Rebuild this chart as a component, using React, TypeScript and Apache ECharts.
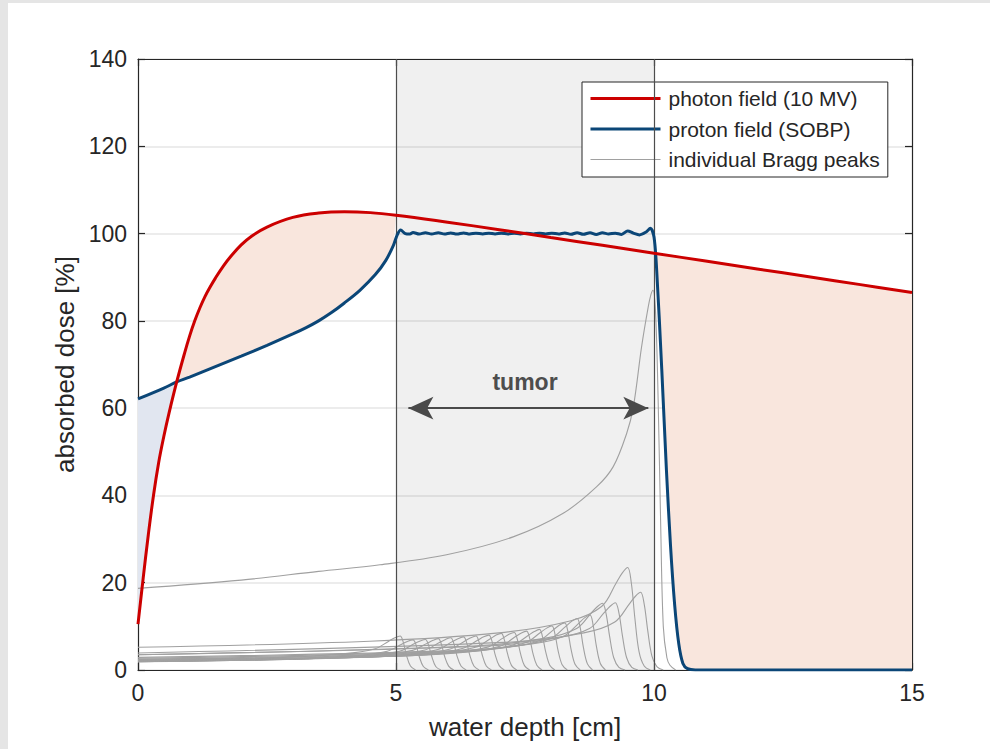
import React, { useEffect, useRef } from "react";
import * as echarts from "echarts";

type Pt = [number, number];

const xTicks = [0, 5, 10, 15];
const yTicks = [0, 20, 40, 60, 80, 100, 120, 140];
const seriesNames = ["photon field (10 MV)", "proton field (SOBP)", "individual Bragg peaks"];
const xTitle = "water depth [cm]";
const yTitle = "absorbed dose [%]";
const tumorText = "tumor";
const tumorRange = [5, 10];
const arrowRange = [5.24, 9.89];
const arrowLevel = 60;
const tumorLabelPos: Pt = [7.5, 66];

const photon: Pt[] = [
  [0, 10.5], [0.1, 21], [0.2, 31], [0.3, 40], [0.4, 47.5], [0.5, 53.5], [0.6, 58.8], [0.75, 66],
  [0.9, 72.5], [1.0, 76.5], [1.1, 80], [1.2, 83], [1.3, 85.6], [1.4, 87.8], [1.5, 89.8],
  [1.65, 92.5], [1.8, 94.8], [2.0, 97.4], [2.2, 99.4], [2.5, 101.5], [3, 103.7], [3.5, 104.7],
  [4, 105], [4.5, 104.8], [5, 104.2], [6, 102.6], [7, 100.9], [8, 99.1], [9, 97.3], [10, 95.5],
  [11, 93.7], [12, 91.9], [13, 90.1], [14, 88.3], [15, 86.5],
];

const proton: Pt[] = [
  [0, 62.1], [0.5, 64.6], [0.75, 66], [1, 67.1], [1.5, 69.5], [2, 71.9], [2.5, 74.4], [3, 77.0],
  [3.25, 78.4], [3.5, 80.0], [3.75, 81.9], [4, 84.1], [4.3, 87.0], [4.6, 90.6], [4.8, 93.8],
  [4.95, 97.3], [5.02, 99.6], [5.09, 100.8],
  [5.18, 100.0], [5.27, 99.9], [5.33, 100.25], [5.45, 99.9], [5.57, 100.2], [5.69, 99.9],
  [5.82, 100.2], [5.94, 99.9], [6.06, 100.15], [6.18, 99.9], [6.31, 100.15], [6.43, 99.9],
  [6.55, 100.1], [6.68, 99.9], [6.8, 100.1], [6.92, 99.9], [7.04, 100.1], [7.17, 99.9],
  [7.29, 100.1], [7.41, 99.9], [7.53, 100.1], [7.66, 99.9], [7.78, 100.1], [7.9, 99.9],
  [8.02, 100.1], [8.15, 99.9], [8.27, 100.15], [8.39, 99.85], [8.51, 100.2], [8.63, 99.85],
  [8.76, 100.2], [8.88, 99.8], [9.0, 100.2], [9.12, 99.9], [9.25, 100.1], [9.37, 99.8],
  [9.49, 100.6], [9.6, 100.1], [9.72, 99.7], [9.84, 100.3], [9.93, 101.2], [10.0, 99.2],
  [10.05, 92], [10.15, 69], [10.24, 46], [10.32, 28.5], [10.4, 15], [10.48, 6], [10.56, 1.5],
  [10.65, 0.3], [10.8, 0], [15, 0],
];

const bragg01: Pt[] = [[0, 2.2], [2.58, 2.8], [3.98, 3.7], [4.58, 4.8], [4.86, 6.6], [4.98, 7.4], [5.08, 7.8], [5.14, 6.4], [5.2, 3.5], [5.28, 0.9], [5.38, 0]];
const bragg02: Pt[] = [[0, 1.9], [2.83, 2.5], [4.23, 3.3], [4.83, 4.3], [5.11, 5.9], [5.23, 6.6], [5.33, 6.9], [5.39, 5.7], [5.45, 3.1], [5.53, 0.8], [5.63, 0]];
const bragg03: Pt[] = [[0, 1.9], [3.07, 2.5], [4.47, 3.4], [5.07, 4.3], [5.35, 6.0], [5.47, 6.65], [5.57, 7.0], [5.63, 5.7], [5.69, 3.2], [5.77, 0.8], [5.87, 0]];
const bragg04: Pt[] = [[0, 1.9], [3.32, 2.6], [4.72, 3.5], [5.32, 4.5], [5.6, 6.1], [5.72, 6.8], [5.82, 7.2], [5.88, 5.9], [5.94, 3.2], [6.02, 0.9], [6.12, 0]];
const bragg05: Pt[] = [[0, 2.0], [3.56, 2.7], [4.96, 3.6], [5.56, 4.6], [5.84, 6.3], [5.96, 7.0], [6.06, 7.4], [6.12, 6.1], [6.18, 3.3], [6.26, 0.9], [6.36, 0]];
const bragg06: Pt[] = [[0, 2.0], [3.81, 2.7], [5.21, 3.6], [5.81, 4.7], [6.09, 6.5], [6.21, 7.2], [6.31, 7.6], [6.37, 6.2], [6.43, 3.4], [6.51, 0.9], [6.61, 0]];
const bragg07: Pt[] = [[0, 2.0], [4.05, 2.8], [5.45, 3.7], [6.05, 4.8], [6.33, 6.6], [6.45, 7.4], [6.55, 7.8], [6.61, 6.4], [6.67, 3.5], [6.75, 0.9], [6.85, 0]];
const bragg08: Pt[] = [[0, 2.0], [4.3, 2.9], [5.7, 3.8], [6.3, 5.0], [6.58, 6.8], [6.7, 7.6], [6.8, 8.0], [6.86, 6.6], [6.92, 3.6], [7.0, 1.0], [7.1, 0]];
const bragg09: Pt[] = [[0, 2.1], [4.54, 3.0], [5.94, 4.0], [6.54, 5.2], [6.82, 7.1], [6.94, 8.0], [7.04, 8.4], [7.1, 6.9], [7.16, 3.8], [7.24, 1.0], [7.34, 0]];
const bragg10: Pt[] = [[0, 2.1], [4.79, 3.1], [6.19, 4.1], [6.79, 5.3], [7.07, 7.3], [7.19, 8.2], [7.29, 8.6], [7.35, 7.1], [7.41, 3.9], [7.49, 1.0], [7.59, 0]];
const bragg11: Pt[] = [[0, 2.2], [5.03, 3.2], [6.43, 4.3], [7.03, 5.5], [7.31, 7.6], [7.43, 8.5], [7.53, 8.9], [7.59, 7.3], [7.65, 4.0], [7.73, 1.1], [7.83, 0]];
const bragg12: Pt[] = [[0, 2.2], [5.28, 3.3], [6.68, 4.5], [7.28, 5.8], [7.56, 7.9], [7.68, 8.8], [7.78, 9.3], [7.84, 7.6], [7.9, 4.2], [7.98, 1.1], [8.08, 0]];
const bragg13: Pt[] = [[0, 2.4], [5.52, 3.6], [6.92, 4.8], [7.52, 6.3], [7.8, 8.6], [7.92, 9.6], [8.02, 10.1], [8.08, 8.3], [8.14, 4.5], [8.22, 1.2], [8.32, 0]];
const bragg14: Pt[] = [[0, 2.5], [5.77, 3.9], [7.17, 5.2], [7.77, 6.7], [8.05, 9.2], [8.17, 10.3], [8.27, 10.8], [8.33, 8.9], [8.39, 4.9], [8.47, 1.3], [8.57, 0]];
const bragg15: Pt[] = [[0, 2.7], [6.01, 4.2], [7.41, 5.7], [8.01, 7.3], [8.29, 10.0], [8.41, 11.2], [8.51, 11.8], [8.57, 9.7], [8.63, 5.3], [8.71, 1.4], [8.81, 0]];
const bragg16: Pt[] = [[0, 2.9], [6.26, 4.5], [7.66, 6.0], [8.26, 7.8], [8.54, 10.7], [8.66, 12.0], [8.76, 12.6], [8.82, 10.3], [8.88, 5.7], [8.96, 1.5], [9.06, 0]];
const bragg17: Pt[] = [[0, 3.5], [6.5, 5.5], [7.9, 7.3], [8.5, 9.5], [8.78, 13.0], [8.9, 14.5], [9.0, 15.3], [9.07, 13.0], [9.14, 7.7], [9.22, 2.8], [9.32, 0.6], [9.44, 0]];
const bragg18: Pt[] = [[0, 3.5], [6.75, 5.5], [8.15, 7.4], [8.75, 9.5], [9.03, 13.1], [9.15, 14.6], [9.25, 15.4], [9.32, 13.1], [9.39, 7.7], [9.47, 2.8], [9.57, 0.6], [9.69, 0]];
const bragg19: Pt[] = [[0, 5.2], [4.49, 6.6], [6.99, 8.5], [8.39, 11.3], [8.99, 14.6], [9.27, 20.0], [9.39, 22.3], [9.49, 23.5], [9.56, 20.0], [9.63, 11.8], [9.71, 4.2], [9.81, 0.9], [9.93, 0]];
const bragg20: Pt[] = [[0, 3.9], [7.24, 6.4], [8.64, 8.5], [9.24, 11.0], [9.52, 15.1], [9.64, 16.9], [9.74, 17.8], [9.81, 15.1], [9.88, 8.9], [9.96, 3.2], [10.06, 0.7], [10.18, 0]];
const bragg21: Pt[] = [
  [0, 18.7], [2, 20.6], [3.5, 22.6], [4.69, 24.1], [5.98, 26.4], [7.27, 30.5], [8.24, 35.9],
  [8.89, 42], [9.21, 46.6], [9.47, 54.2], [9.6, 60.3], [9.76, 74.1], [9.89, 83.3], [9.94, 86],
  [9.98, 87], [10.03, 82], [10.08, 62], [10.13, 33], [10.18, 10], [10.25, 2.8], [10.31, 1.1], [10.42, 0],
];

const braggPeaks: Pt[][] = [
  bragg01, bragg02, bragg03, bragg04, bragg05, bragg06, bragg07, bragg08, bragg09, bragg10,
  bragg11, bragg12, bragg13, bragg14, bragg15, bragg16, bragg17, bragg18, bragg19, bragg20, bragg21,
];

const FONT = "'Liberation Sans', Arial, Helvetica, sans-serif";
const INK = "#262626";
const RED = "#cc0000";
const BLUE = "#0b4677";
const GRAY = "#a0a0a0";
const ORANGE_FILL = "#f9e6dd";
const BLUE_FILL = "#e1e6f0";

function inRange(arr: Pt[], a: number, b: number): Pt[] {
  return arr.filter((p) => p[0] >= a && p[0] <= b);
}

export default function App() {
  const ref = useRef<HTMLDivElement>(null);

  useEffect(() => {
    if (!ref.current) return;
    const chart = echarts.init(ref.current, null, { renderer: "svg" });

    const polygons = [
      { color: BLUE_FILL, pts: [...inRange(proton, 0, 0.75), ...inRange(photon, 0, 0.75).reverse()] },
      { color: ORANGE_FILL, pts: [...inRange(photon, 0.75, 5), ...inRange(proton, 0.75, 5).reverse()] },
      { color: ORANGE_FILL, pts: [...inRange(photon, 10, 15), ...inRange(proton, 10.05, 15).reverse()] },
    ];

    const fillSeries = polygons.map((poly) => ({
      type: "custom",
      silent: true,
      z: 2,
      data: [[0, 0]],
      renderItem: (_params: any, api: any) => ({
        type: "polygon",
        shape: { points: poly.pts.map((p) => api.coord(p)) },
        style: { fill: poly.color, stroke: "none" },
      }),
    }));

    const braggSeries = braggPeaks.map((pts) => ({
      type: "line",
      name: seriesNames[2],
      data: pts,
      symbol: "none",
      smooth: 0.35,
      z: 3,
      silent: true,
      lineStyle: { color: GRAY, width: 1.1 },
      itemStyle: { color: GRAY },
    }));

    const axisCommon = {
      type: "value",
      axisLine: { show: true, onZero: false, lineStyle: { color: INK, width: 1.2 } },
      axisTick: { show: true, inside: true, length: 7, lineStyle: { color: INK, width: 1.2 } },
    };

    const option: any = {
      animation: false,
      backgroundColor: "transparent",
      textStyle: { fontFamily: FONT },
      grid: { left: 138, right: 78, top: 59, bottom: 79, containLabel: false },
      legend: {
        data: [
          { name: seriesNames[0], lineStyle: { width: 3, color: RED } },
          { name: seriesNames[1], lineStyle: { width: 3, color: BLUE } },
          { name: seriesNames[2], lineStyle: { width: 1.1, color: GRAY } },
        ],
        orient: "vertical",
        left: 582,
        top: 82,
        itemWidth: 70,
        itemHeight: 14,
        itemGap: 9.5,
        padding: [6, 8, 7, 7],
        backgroundColor: "#ffffff",
        borderColor: INK,
        borderWidth: 1,
        borderRadius: 0,
        selectedMode: false,
        itemStyle: { opacity: 0, color: "rgba(0,0,0,0)", borderColor: "rgba(0,0,0,0)", borderWidth: 0 },
        textStyle: { fontSize: 21, color: INK, fontFamily: FONT, padding: [0, 0, 0, 3] },
      },
      xAxis: [
        {
          ...axisCommon,
          min: xTicks[0],
          max: xTicks[xTicks.length - 1],
          interval: xTicks[1] - xTicks[0],
          position: "bottom",
          axisLabel: { fontSize: 23, color: INK, margin: 11, fontFamily: FONT },
          splitLine: { show: false },
          name: xTitle,
          nameLocation: "middle",
          nameGap: 44,
          nameTextStyle: { fontSize: 26, color: INK, fontFamily: FONT },
        },
        {
          ...axisCommon,
          min: xTicks[0],
          max: xTicks[xTicks.length - 1],
          interval: xTicks[1] - xTicks[0],
          position: "top",
          axisLabel: { show: false },
          splitLine: { show: false },
        },
      ],
      yAxis: [
        {
          ...axisCommon,
          min: yTicks[0],
          max: yTicks[yTicks.length - 1],
          interval: yTicks[1] - yTicks[0],
          position: "left",
          axisLabel: { fontSize: 23, color: INK, margin: 11, fontFamily: FONT },
          splitLine: { show: true, lineStyle: { color: "#e6e6e6", width: 1.5 } },
          name: yTitle,
          nameLocation: "middle",
          nameGap: 56,
          nameTextStyle: { fontSize: 26, color: INK, fontFamily: FONT },
        },
        {
          ...axisCommon,
          min: yTicks[0],
          max: yTicks[yTicks.length - 1],
          interval: yTicks[1] - yTicks[0],
          position: "right",
          axisLabel: { show: false },
          splitLine: { show: false },
        },
      ],
      series: [
        {
          type: "line",
          data: [],
          z: 1,
          silent: true,
          markArea: {
            silent: true,
            itemStyle: { color: "rgba(0,0,0,0.058)" },
            data: [[{ xAxis: tumorRange[0] }, { xAxis: tumorRange[1] }]],
          },
        },
        ...fillSeries,
        ...braggSeries,
        {
          type: "line",
          data: [],
          z: 4,
          silent: true,
          markLine: {
            silent: true,
            symbol: "none",
            label: { show: false },
            lineStyle: { color: "#4d4d4d", width: 1.2, type: "solid" },
            data: [{ xAxis: tumorRange[0] }, { xAxis: tumorRange[1] }],
          },
        },
        {
          type: "line",
          data: [],
          z: 4,
          silent: true,
          markLine: {
            silent: true,
            symbol: ["arrow", "arrow"],
            symbolSize: [17, 25],
            label: { show: false },
            lineStyle: { color: "#4a4a4a", width: 2, type: "solid" },
            data: [[{ coord: [arrowRange[0], arrowLevel] }, { coord: [arrowRange[1], arrowLevel] }]],
          },
        },
        {
          type: "line",
          data: [],
          z: 4,
          silent: true,
          markPoint: {
            silent: true,
            symbol: "circle",
            symbolSize: 0,
            itemStyle: { color: "rgba(0,0,0,0)" },
            label: {
              show: true,
              position: "inside",
              formatter: tumorText,
              fontSize: 23,
              fontWeight: "bold",
              color: "#4d4d4d",
              fontFamily: FONT,
              textBorderWidth: 0,
            },
            data: [{ coord: tumorLabelPos }],
          },
        },
        {
          type: "line",
          name: seriesNames[1],
          data: proton,
          symbol: "none",
          smooth: 0.3,
          z: 5,
          lineStyle: { color: BLUE, width: 3 },
          itemStyle: { color: BLUE },
        },
        {
          type: "line",
          name: seriesNames[0],
          data: photon,
          symbol: "none",
          smooth: 0.4,
          z: 6,
          lineStyle: { color: RED, width: 3 },
          itemStyle: { color: RED },
        },
      ],
    };

    chart.setOption(option);
    return () => chart.dispose();
  }, []);

  return (
    <div style={{ position: "fixed", left: 0, top: 0, width: 990, height: 749, background: "#e5e5e5", overflow: "hidden" }}>
      <div style={{ position: "absolute", left: 8, top: 3, right: 0, bottom: 0, background: "#ffffff" }} />
      <div ref={ref} style={{ position: "absolute", left: 0, top: 0, width: 990, height: 749 }} />
    </div>
  );
}
